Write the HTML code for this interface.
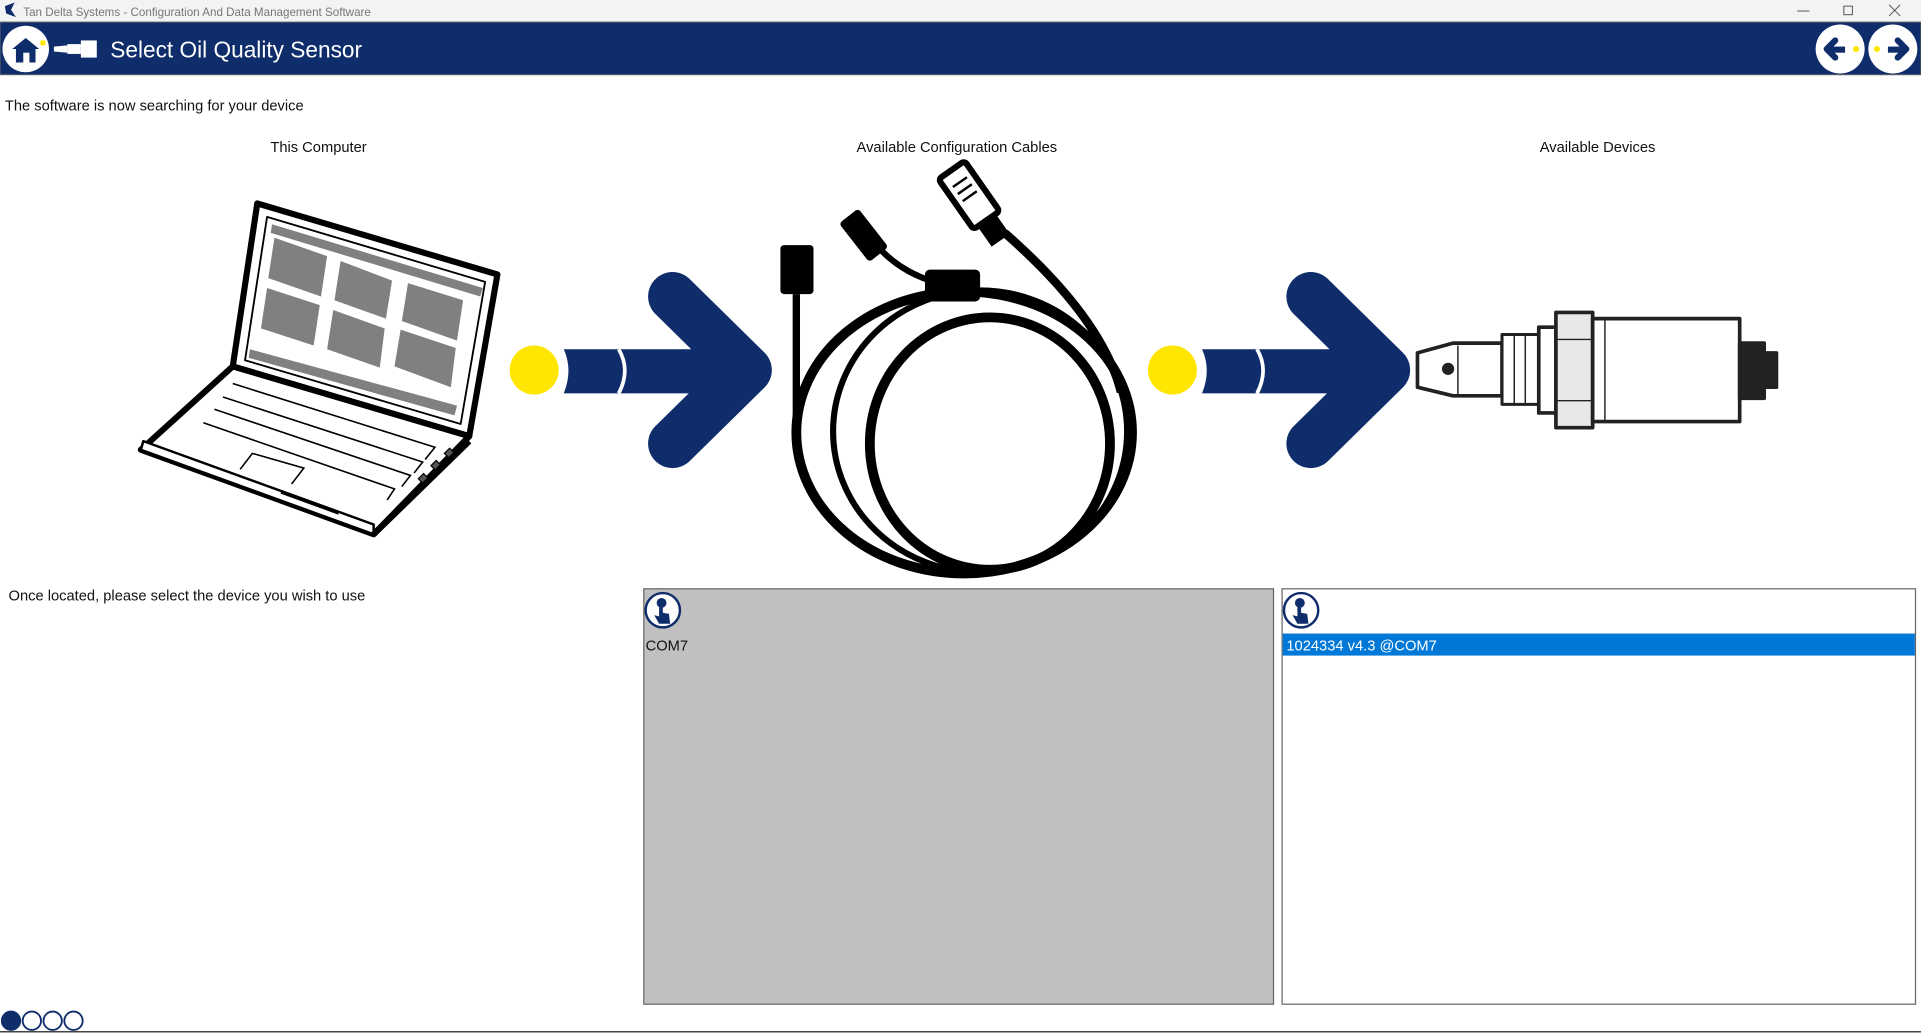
<!DOCTYPE html>
<html><head><meta charset="utf-8"><style>
html,body{margin:0;padding:0;background:#fff;overflow:hidden}
svg{display:block}
text{font-family:"Liberation Sans",sans-serif}
</style></head><body>
<svg width="1921" height="1033" viewBox="0 0 1568 843" preserveAspectRatio="none" xmlns="http://www.w3.org/2000/svg">
<rect x="0" y="0" width="1568" height="18" fill="#f3f3f3"/>
<path d="M4 5 L12 2 L9 8 L13 14 L5 11 Z" fill="#0f2d6b"/>
<text x="19" y="13" font-size="9.5" fill="#777">Tan Delta Systems - Configuration And Data Management Software</text>
<line x1="1467" y1="9" x2="1477" y2="9" stroke="#555" stroke-width="0.8"/>
<rect x="1505" y="5" width="7" height="7" fill="none" stroke="#555" stroke-width="0.8"/>
<path d="M1542 4 L1551 13 M1551 4 L1542 13" stroke="#555" stroke-width="0.8"/>
<rect x="0" y="18" width="1568" height="43" fill="#0f2d6b" stroke="#666" stroke-width="0.8"/>
<circle cx="21" cy="40" r="19" fill="#fff"/>
<path d="M10 40 L21 31 L32 40 L29 40 L29 51 L13 51 L13 40 Z" fill="#0f2d6b"/>
<rect x="19" y="43" width="5" height="8" fill="#fff"/>
<rect x="33" y="33" width="4" height="4" fill="#ffe600"/>
<rect x="55" y="36" width="11" height="8" fill="#fff"/>
<rect x="66" y="33" width="13" height="14" fill="#fff"/>
<path d="M44 38 L55 37 L55 43 L44 42Z" fill="#fff"/>
<text x="90" y="47" font-size="18.5" fill="#fff">Select Oil Quality Sensor</text>
<circle cx="1502" cy="40" r="20" fill="#fff"/>
<circle cx="1545" cy="40" r="20" fill="#fff"/>
<polyline points="1498,33 1491,40 1498,47" fill="none" stroke="#0f2d6b" stroke-width="5" stroke-linecap="round" stroke-linejoin="round"/>
<rect x="1492" y="38" width="14" height="5" fill="#0f2d6b"/>
<circle cx="1515" cy="40" r="2.5" fill="#ffe600"/>
<polyline points="1549,33 1556,40 1549,47" fill="none" stroke="#0f2d6b" stroke-width="5" stroke-linecap="round" stroke-linejoin="round"/>
<rect x="1541" y="38" width="14" height="5" fill="#0f2d6b"/>
<circle cx="1532" cy="40" r="2.5" fill="#ffe600"/>

<text x="4" y="90" font-size="12" fill="#111">The software is now searching for your device</text>
<text x="260" y="124" font-size="12" fill="#111" text-anchor="middle">This Computer</text>
<text x="781" y="124" font-size="12" fill="#111" text-anchor="middle">Available Configuration Cables</text>
<text x="1304" y="124" font-size="12" fill="#111" text-anchor="middle">Available Devices</text>

<!-- laptop -->
<g stroke="#000" stroke-linejoin="round">
<polygon points="210,166 406,224 383,356 190,299" fill="#fff" stroke-width="5"/>
<polygon points="218,177 396,230 376,346 200,294" fill="#fff" stroke-width="1.5"/>
<polygon points="190,299 383,356 305,436 115,367" fill="#fff" stroke-width="5"/>
<polygon points="115,367 305,436 305,428 117,360" fill="#fff" stroke-width="2"/>
<line x1="305" y1="436" x2="383" y2="360" stroke-width="5"/>
</g>
<polygon points="222,183 394,235 392,242 221,190" fill="#808080"/>
<polygon points="204,285 373,331 371,339 203,292" fill="#808080"/>
<g fill="#808080">
<polygon points="224,194 267,209 262,242 219,227"/>
<polygon points="278,213 320,229 315,260 273,245"/>
<polygon points="333,231 378,245 373,278 328,262"/>
<polygon points="218,235 261,249 256,282 213,268"/>
<polygon points="272,253 314,268 310,300 267,285"/>
<polygon points="327,269 372,284 368,316 322,299"/>
</g>
<g stroke="#000" stroke-width="1.3" fill="none">
<polyline points="190,313 355,365 347,375"/>
<polyline points="182,324 345,377 338,386"/>
<polyline points="175,334 335,388 328,397"/>
<polyline points="166,345 322,399 316,408"/>
<polyline points="196,383 206,370 248,382 238,395"/>
</g>
<rect x="230" y="400" width="50" height="3" fill="#000" transform="rotate(20 230 400)"/>
<g fill="#555" stroke="#000" stroke-width="1"><rect x="342" y="388" width="6" height="5" transform="rotate(-45 345 390)"/><rect x="353" y="377" width="6" height="5" transform="rotate(-45 356 380)"/><rect x="364" y="367" width="6" height="5" transform="rotate(-45 367 370)"/></g>

<!-- arrows -->
<g id="arr">
<circle cx="436" cy="302" r="20" fill="#ffe600"/>
<rect x="460" y="285" width="140" height="36" fill="#0f2d6b"/>
<path d="M458 285 Q466 302 458 321" stroke="#fff" stroke-width="4" fill="none"/>
<path d="M505 285 Q515 302 505 321" stroke="#fff" stroke-width="3" fill="none"/>
<polyline points="549,242 610,302 549,362" fill="none" stroke="#0f2d6b" stroke-width="40" stroke-linecap="round" stroke-linejoin="round"/>
</g>
<use href="#arr" x="521" y="0"/>

<!-- cable -->
<g fill="none" stroke="#000">
<ellipse cx="787" cy="353" rx="137" ry="115" stroke-width="8"/>
<ellipse cx="808" cy="362" rx="98" ry="103" stroke-width="8"/>
<ellipse cx="800" cy="352" rx="120" ry="115" stroke-width="5"/>
<line x1="650" y1="240" x2="650" y2="340" stroke-width="6"/>
<path d="M720 205 Q740 225 770 232" stroke-width="5"/>
<path d="M820 190 Q900 260 915 320" stroke-width="7"/>
</g>
<rect x="637" y="200" width="27" height="40" rx="3" fill="#000"/>
<rect x="695" y="172" width="20" height="40" rx="3" fill="#000" transform="rotate(-38 705 192)"/>
<rect x="755" y="220" width="45" height="26" rx="4" fill="#000"/>
<g transform="rotate(-35 795 165)">
<rect x="782" y="133" width="26" height="50" rx="3" fill="#fff" stroke="#000" stroke-width="5"/>
<line x1="788" y1="145" x2="802" y2="145" stroke="#000" stroke-width="2"/>
<line x1="788" y1="152" x2="802" y2="152" stroke="#000" stroke-width="2"/>
<line x1="788" y1="159" x2="802" y2="159" stroke="#000" stroke-width="2"/>
<rect x="786" y="183" width="18" height="20" fill="#000"/>
</g>

<!-- sensor -->
<g stroke="#222" stroke-width="3" stroke-linejoin="round">
<polygon points="1157,288 1186,280 1226,280 1226,323 1186,323 1157,316" fill="#fff"/>
<rect x="1226" y="273" width="30" height="57" fill="#fff" stroke-width="2.5"/>
<rect x="1256" y="267" width="14" height="70" fill="#fff"/>
<rect x="1270" y="255" width="30" height="94" fill="#e8e8e8"/>
<rect x="1300" y="260" width="120" height="84" fill="#fff"/>
<rect x="1420" y="280" width="20" height="45" fill="#222"/>
<rect x="1440" y="288" width="10" height="28" fill="#222"/>
</g>
<circle cx="1182" cy="301" r="5" fill="#222"/>
<g stroke="#222" stroke-width="1.2"><line x1="1236" y1="273" x2="1236" y2="330"/><line x1="1245" y1="273" x2="1245" y2="330"/><line x1="1190" y1="282" x2="1190" y2="322"/><line x1="1270" y1="277" x2="1300" y2="277"/><line x1="1270" y1="327" x2="1300" y2="327"/><line x1="1310" y1="260" x2="1310" y2="344"/></g>

<!-- lower -->
<text x="7" y="490" font-size="12" fill="#111">Once located, please select the device you wish to use</text>
<rect x="525.5" y="480.5" width="514" height="339" fill="#c0c0c0" stroke="#666" stroke-width="1"/>
<rect x="1046.5" y="480.5" width="517" height="339" fill="#fff" stroke="#666" stroke-width="1"/>
<g id="hand">
<circle cx="541" cy="498" r="14" fill="#fff" stroke="#0f2d6b" stroke-width="2"/>
<circle cx="540" cy="492" r="4" fill="#0f2d6b"/>
<path d="M538 493 L541 493 L541 500 L546 501 L547 509 L538 509 L534 502 L538 503 Z" fill="#0f2d6b"/>
</g>
<use href="#hand" x="521" y="0"/>
<text x="527" y="531" font-size="12" fill="#111">COM7</text>
<rect x="1047" y="517" width="516" height="18" fill="#0078d7"/>
<text x="1050" y="531" font-size="12" fill="#fff">1024334 v4.3 @COM7</text>
<circle cx="9" cy="833" r="7.5" fill="#0f2d6b" stroke="#0f2d6b" stroke-width="1.5"/>
<circle cx="26" cy="833" r="7.5" fill="#fff" stroke="#0f2d6b" stroke-width="1.5"/>
<circle cx="43" cy="833" r="7.5" fill="#fff" stroke="#0f2d6b" stroke-width="1.5"/>
<circle cx="60" cy="833" r="7.5" fill="#fff" stroke="#0f2d6b" stroke-width="1.5"/>
<line x1="0" y1="842" x2="1568" y2="842" stroke="#444" stroke-width="1.2"/>
</svg>
</body></html>
